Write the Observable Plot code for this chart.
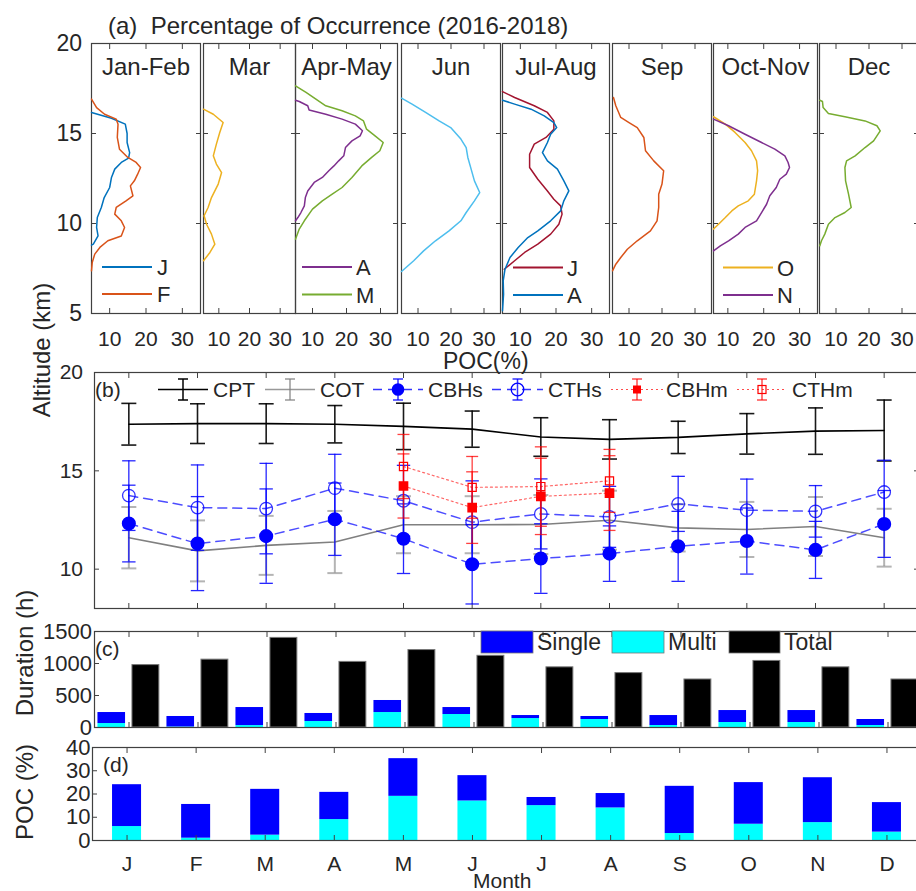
<!DOCTYPE html>
<html><head><meta charset="utf-8">
<script src="https://cdn.jsdelivr.net/npm/d3@7"></script>
<script src="https://cdn.jsdelivr.net/npm/@observablehq/plot@0.6"></script>
<style>
html,body{margin:0;padding:0;background:#fff;overflow:hidden;}
#chart{position:relative;width:916px;height:891px;overflow:hidden;background:#fff;}
</style></head><body><div id="chart"></div>
<script>
// ---------------- DATA ----------------
// (a) profiles: [POC %, altitude km]
const janFebJ = [[5.0,16.17],[10.5,15.85],[14.3,15.52],[14.8,15.0],[14.8,14.5],[15.5,13.94],[15.2,13.63],[13.2,13.39],[11.4,13.02],[10.5,12.56],[10.0,12.0],[8.5,11.44],[7.7,10.89],[6.6,10.33],[6.4,9.78],[6.8,9.31],[5.5,8.85],[5.0,8.8]];
const janFebF = [[5.0,16.91],[6.4,16.44],[8.6,16.07],[11.8,15.8],[12.3,15.52],[12.1,14.78],[12.7,14.13],[15.0,13.67],[17.3,13.39],[18.5,13.11],[17.7,12.74],[16.8,12.37],[15.7,12.09],[16.4,11.54],[14.5,11.26],[11.8,10.89],[11.4,10.52],[13.2,10.15],[14.1,9.78],[13.2,9.31],[9.5,9.04],[7.3,8.67],[5.9,8.3],[5.2,7.83],[5.0,7.37]];
const marProfile = [[5.0,16.35],[8.2,16.07],[11.4,15.61],[10.3,15.06],[9.2,14.41],[8.2,13.76],[9.2,13.3],[10.9,12.83],[9.8,12.19],[7.6,11.44],[6.5,10.89],[5.2,10.43],[6.0,9.96],[7.6,9.41],[8.7,8.85],[7.1,8.39],[5.0,7.93]];
const aprMayA = [[5.0,16.85],[6.1,16.78],[8.6,16.54],[9.0,16.3],[13.9,16.07],[18.7,15.8],[22.6,15.52],[24.7,15.15],[24.0,14.87],[21.6,14.59],[19.7,14.22],[19.2,13.76],[17.7,13.48],[16.3,13.2],[14.8,12.93],[12.9,12.56],[10.5,12.28],[8.6,11.81],[7.9,11.44],[7.6,10.98],[6.6,10.61],[5.7,10.33],[5.0,10.15]];
const aprMayM = [[5.0,17.65],[8.1,17.28],[11.0,16.91],[13.9,16.54],[18.7,16.26],[22.6,15.98],[25.0,15.7],[25.9,15.24],[28.4,14.87],[30.8,14.5],[29.8,14.04],[27.4,13.67],[24.5,13.2],[21.6,12.56],[18.7,12.0],[15.8,11.63],[12.9,11.26],[10.0,10.8],[7.6,10.15],[6.1,9.69],[5.0,9.13]];
const junProfile = [[5.0,16.96],[8.2,16.63],[12.3,16.17],[16.4,15.7],[19.9,15.33],[23.0,14.69],[24.6,14.22],[25.1,13.67],[26.1,13.02],[27.1,12.37],[28.7,11.72],[27.1,11.26],[24.6,10.61],[23.0,10.15],[19.4,9.59],[15.3,9.04],[11.7,8.48],[8.7,7.93],[5.0,7.33]];
const julAugJ = [[5.0,17.33],[8.4,17.0],[13.9,16.54],[17.6,16.17],[19.4,15.7],[19.4,15.24],[17.2,14.78],[13.9,14.41],[12.6,13.85],[12.6,13.11],[14.9,12.46],[17.6,11.81],[19.4,11.35],[21.3,10.98],[21.7,10.52],[20.8,9.96],[18.5,9.41],[14.9,8.85],[11.2,8.39],[8.4,7.93],[5.5,7.46]];
const julAugA = [[5.0,16.85],[8.4,16.63],[13.0,16.35],[16.7,15.98],[19.4,15.61],[20.2,15.33],[18.5,14.96],[17.6,14.5],[16.2,13.94],[17.6,13.48],[20.4,13.02],[22.2,12.37],[23.6,11.81],[22.2,11.26],[21.3,10.7],[18.5,10.15],[14.9,9.59],[12.1,9.22],[9.4,8.67],[7.1,8.11],[5.7,7.46],[5.2,6.81],[5.3,6.07],[5.0,5.15]];
const sepProfile = [[5.3,17.0],[6.0,16.54],[7.5,15.89],[10.0,15.61],[12.5,15.33],[14.5,14.78],[15.0,14.04],[17.5,13.48],[20.5,12.93],[20.0,12.19],[19.0,11.63],[19.0,10.89],[18.5,10.15],[16.5,9.59],[12.5,9.04],[9.5,8.57],[7.5,8.11],[6.0,7.74],[5.0,7.37]];
const octNovO = [[6.0,15.93],[9.3,15.52],[12.0,15.06],[14.8,14.5],[16.6,14.04],[18.0,13.48],[18.3,12.93],[18.0,12.37],[17.4,11.63],[15.7,11.26],[12.9,10.98],[11.1,10.7],[9.3,10.33],[7.4,9.96],[6.0,9.69]];
const octNovN = [[6.0,15.8],[10.2,15.43],[14.8,14.96],[19.4,14.5],[23.1,14.13],[25.9,13.76],[26.8,13.39],[27.2,13.11],[26.3,12.74],[24.5,12.46],[23.5,12.0],[21.7,11.54],[20.8,11.07],[19.4,10.61],[18.0,10.15],[14.8,9.78],[12.9,9.41],[10.2,9.04],[7.9,8.76],[6.0,8.48]];
const decProfile = [[5.1,16.85],[5.9,16.78],[6.1,16.44],[7.7,16.11],[12.7,15.93],[18.8,15.7],[22.4,15.43],[23.4,15.15],[22.4,14.87],[21.4,14.59],[18.8,14.22],[15.8,13.76],[13.2,13.48],[12.7,13.11],[12.9,12.37],[13.8,11.63],[14.6,10.89],[12.7,10.61],[9.7,10.33],[7.7,9.96],[6.6,9.41],[5.6,9.04],[5.1,8.76]];
const aTitles = ["Jan-Feb","Mar","Apr-May","Jun","Jul-Aug","Sep","Oct-Nov","Dec"];
const pocTicks = [10,20,30];
const altTicks = [5,10,15,20];

// (b) heights (km)
const months = ["J","F","M","A","M","J","J","A","S","O","N","D"];
const cptMean = [17.37,17.4,17.4,17.37,17.26,17.12,16.72,16.6,16.7,16.88,17.02,17.05];
const cptErr  = [1.06,1.01,1.01,0.95,1.18,0.92,0.98,1.0,0.82,1.03,1.18,1.55];
const cotMean = [11.6,10.93,11.21,11.38,12.26,12.26,12.27,12.49,12.1,12.02,12.17,11.6];
const cotErr  = [1.56,1.55,1.5,1.58,1.45,1.45,1.5,1.5,1.2,1.4,1.5,1.47];
const cbhsMean = [12.32,11.3,11.68,12.54,11.55,10.25,10.54,10.79,11.16,11.43,10.98,12.3];
const cbhsErr  = [1.95,2.39,2.4,1.84,1.77,2.02,1.77,1.41,1.78,1.68,1.45,1.7];
const cthsMean = [13.74,13.13,13.08,14.12,13.48,12.39,12.81,12.66,13.32,13.0,12.94,13.92];
const cthsErr  = [1.77,2.17,2.3,1.72,1.8,2.1,1.78,1.55,1.4,1.58,1.31,1.62];
const multiMonths = ["May","Jun","Jul","Aug"];
const multiMonthIdx = [5,6,7,8];
const cbhmMean = [14.23,13.13,13.7,13.87];
const cbhmErr  = [1.63,1.82,1.94,1.9];
const cthmMean = [15.22,14.16,14.2,14.49];
const cthmErr  = [1.63,1.57,2.02,1.6];

// (c) duration (h)
const durSingle = [172,164,282,125,188,109,47,47,156,187,187,94];
const durMulti  = [62,8,30,94,234,203,140,125,31,78,78,31];
const durTotal  = [975,1060,1400,1025,1210,1120,940,850,750,1040,940,750];

// (d) POC (%)
const pocSingle = [18,14.5,19.7,11.7,16.2,10.9,3.5,6.2,20.3,17.9,19.3,12.7];
const pocMulti  = [6,1,2.3,9,19,17,15,14,3,7,7.7,3.6];

// ---------------- STYLE ----------------
const FONT = "'Liberation Sans', Arial, Helvetica, sans-serif";
const INK = "#262626";
const FRAME = "#404040";
const C = {blue:"#0072BD", orange:"#D95319", yellow:"#EDB120", purple:"#7E2F8E", green:"#77AC30", sky:"#4DBEEE", red:"#A2142F"};
const chart = document.getElementById("chart");
const svgStyle = {background:"none", overflow:"visible", maxWidth:"none", fontFamily:FONT, color:INK, position:"absolute", left:"0px", top:"0px"};
const capSymbol = {draw(ctx, size){ const w = Math.sqrt(size / Math.PI); ctx.moveTo(-w, 0); ctx.lineTo(w, 0); }};
const plain = d => String(d);

function tickAxis(fn, anchor, ticks) {
  return fn({anchor, ticks, tickSize:-5, fill:"none", stroke:FRAME, label:null});
}
function labelAxis(fn, anchor, ticks, pad, fs, fmt) {
  return fn({anchor, ticks, tickSize:-5, tickPadding:pad, fontSize:fs, fill:INK, stroke:FRAME, label:null, tickFormat: fmt || plain});
}

// ---------------- PANEL (a) ----------------
const aLayout = [
  {L:91, R:200, x0:5, series:[[janFebJ,C.blue],[janFebF,C.orange]]},
  {L:203, R:295, x0:5, series:[[marProfile,C.yellow]]},
  {L:295, R:397, x0:5, series:[[aprMayA,C.purple],[aprMayM,C.green]]},
  {L:401, R:500, x0:5, series:[[junProfile,C.sky]]},
  {L:502, R:609, x0:5, series:[[julAugJ,C.red],[julAugA,C.blue]]},
  {L:612, R:711, x0:5, series:[[sepProfile,C.orange]]},
  {L:713, R:817, x0:6, series:[[octNovO,C.yellow],[octNovN,C.purple]]},
  {L:819, R:918, x0:5, series:[[decProfile,C.green]]}
];
aLayout.forEach((p, i) => {
  const W = 920;
  const marks = [
    Plot.frame({stroke:FRAME, strokeWidth:1.2}),
    labelAxis(Plot.axisX, "bottom", pocTicks, 23, 21),
    tickAxis(Plot.axisX, "top", pocTicks),
    i === 0 ? labelAxis(Plot.axisY, "left", altTicks, 14.5, 23) : tickAxis(Plot.axisY, "left", altTicks),
    tickAxis(Plot.axisY, "right", altTicks),
    ...p.series.map(([d, c]) => Plot.line(d, {x: r => r[0], y: r => r[1], stroke:c, strokeWidth:1.5})),
    Plot.text([aTitles[i]], {text: d => d, frameAnchor:"top", dy:31, lineAnchor:"bottom", fontSize:24, fill:INK})
  ];
  const svg = Plot.plot({
    width:W, height:891, marginLeft:p.L, marginRight:W - p.R, marginTop:43, marginBottom:891 - 313,
    x:{domain:[p.x0, 35], axis:null}, y:{domain:[5,20], axis:null},
    style:svgStyle, marks
  });
  chart.appendChild(svg);
});

// ---------------- PANEL (b) ----------------
const idx = months.map((_, i) => i + 1);
const rows = (mean, err, mi) => mean.map((v, i) => ({m: mi ? mi[i] : i + 1, v, e: err[i]}));
const cpt = rows(cptMean, cptErr), cot = rows(cotMean, cotErr);
const cbhs = rows(cbhsMean, cbhsErr), cths = rows(cthsMean, cthsErr);
const cbhm = rows(cbhmMean, cbhmErr, multiMonthIdx), cthm = rows(cthmMean, cthmErr, multiMonthIdx);
function errMarks(data, color, w, op, capR) {
  const common = {stroke:color, strokeWidth:w, strokeOpacity:op};
  return [
    Plot.ruleX(data, {x:"m", y1: d => d.v - d.e, y2: d => d.v + d.e, ...common}),
    Plot.dot(data, {x:"m", y: d => d.v + d.e, symbol:capSymbol, r:capR, fill:"none", ...common}),
    Plot.dot(data, {x:"m", y: d => d.v - d.e, symbol:capSymbol, r:capR, fill:"none", ...common})
  ];
}
const BLUE = "#0000ff", RED = "#ff0000";
chart.appendChild(Plot.plot({
  width:918, height:891, marginLeft:94, marginRight:0, marginTop:372, marginBottom:891 - 608,
  x:{domain:[0.5,12.5], axis:null}, y:{domain:[8,20], axis:null},
  style:svgStyle,
  marks:[
    Plot.frame({stroke:FRAME, strokeWidth:1.2}),
    tickAxis(Plot.axisX, "bottom", idx),
    tickAxis(Plot.axisX, "top", idx),
    labelAxis(Plot.axisY, "left", [10,15,20], 16.5, 21),
    tickAxis(Plot.axisY, "right", [10,15,20]),
    Plot.line(cpt, {x:"m", y:"v", stroke:"#000", strokeWidth:1.6}),
    ...errMarks(cpt, "#000", 1.6, 0.9, 7.5),
    ...errMarks(cot, "#777", 2, 0.55, 7.5),
    Plot.line(cot, {x:"m", y:"v", stroke:"#808080", strokeWidth:1.6}),
    ...errMarks(cbhs, BLUE, 1.3, 0.85, 6.7),
    Plot.line(cbhs, {x:"m", y:"v", stroke:BLUE, strokeOpacity:0.7, strokeWidth:1.5, strokeDasharray:"9,6"}),
    Plot.dot(cbhs, {x:"m", y:"v", r:6.3, fill:BLUE, stroke:BLUE}),
    ...errMarks(cths, BLUE, 1.3, 0.85, 6.7),
    Plot.line(cths, {x:"m", y:"v", stroke:BLUE, strokeOpacity:0.7, strokeWidth:1.5, strokeDasharray:"9,6"}),
    Plot.dot(cths, {x:"m", y:"v", r:6.3, fill:"none", stroke:BLUE, strokeOpacity:0.8, strokeWidth:1.3}),
    ...errMarks(cbhm, RED, 1.3, 0.75, 6),
    Plot.line(cbhm, {x:"m", y:"v", stroke:RED, strokeOpacity:0.6, strokeWidth:1.2, strokeDasharray:"2,3"}),
    Plot.dot(cbhm, {x:"m", y:"v", symbol:"square", r:4.6, fill:RED, stroke:RED}),
    ...errMarks(cthm, RED, 1.3, 0.75, 6),
    Plot.line(cthm, {x:"m", y:"v", stroke:RED, strokeOpacity:0.6, strokeWidth:1.2, strokeDasharray:"2,3"}),
    Plot.dot(cthm, {x:"m", y:"v", symbol:"square", r:4.6, fill:"none", stroke:RED, strokeWidth:1.2})
  ]
}));

// ---------------- PANEL (c) ----------------
const cRows = months.map((mo, i) => ({m:i + 1, single:durSingle[i], multi:durMulti[i], total:durTotal[i]}));
chart.appendChild(Plot.plot({
  width:922, height:891, marginLeft:94, marginRight:0, marginTop:631, marginBottom:891 - 727,
  x:{domain:[0.5,12.5], axis:null}, y:{domain:[0,1500], axis:null},
  style:svgStyle,
  marks:[
    Plot.rect(cRows, {x1: d => d.m - 0.45, x2: d => d.m - 0.05, y1:0, y2:"multi", fill:"#00ffff"}),
    Plot.rect(cRows, {x1: d => d.m - 0.45, x2: d => d.m - 0.05, y1:"multi", y2: d => d.multi + d.single, fill:BLUE}),
    Plot.rect(cRows, {x1: d => d.m + 0.05, x2: d => d.m + 0.44, y1:0, y2:"total", fill:"#000", stroke:"#777", strokeWidth:1}),
    Plot.frame({stroke:FRAME, strokeWidth:1.2}),
    tickAxis(Plot.axisX, "bottom", idx),
    tickAxis(Plot.axisX, "top", idx),
    labelAxis(Plot.axisY, "left", [0,500,1000,1500], 7.5, 22),
    tickAxis(Plot.axisY, "right", [0,500,1000,1500])
  ]
}));

// ---------------- PANEL (d) ----------------
const dRows = months.map((mo, i) => ({m:i + 1, single:pocSingle[i], multi:pocMulti[i]}));
chart.appendChild(Plot.plot({
  width:921, height:891, marginLeft:92, marginRight:0, marginTop:747, marginBottom:891 - 840,
  x:{domain:[0.5,12.5], axis:null}, y:{domain:[0,40], axis:null},
  style:svgStyle,
  marks:[
    Plot.rect(dRows, {x1: d => d.m - 0.21, x2: d => d.m + 0.21, y1:0, y2:"multi", fill:"#00ffff"}),
    Plot.rect(dRows, {x1: d => d.m - 0.21, x2: d => d.m + 0.21, y1:"multi", y2: d => d.multi + d.single, fill:BLUE}),
    Plot.frame({stroke:FRAME, strokeWidth:1.2}),
    labelAxis(Plot.axisX, "bottom", idx, 21, 21, d => months[d - 1]),
    tickAxis(Plot.axisX, "top", idx),
    labelAxis(Plot.axisY, "left", [0,10,20,30,40], 7, 22),
    tickAxis(Plot.axisY, "right", [0,10,20,30,40])
  ]
}));

// ---------------- TEXT & LEGENDS ----------------
const ov = d3.select(chart).append("svg")
  .attr("width", 916).attr("height", 891)
  .attr("style", `position:absolute;left:0;top:0;overflow:visible;font-family:${FONT}`);
function txt(x, y, s, fs, opts = {}) {
  const t = ov.append("text").attr("x", x).attr("y", y).attr("font-size", fs).attr("fill", INK)
    .style("white-space", "pre").text(s);
  if (opts.anchor) t.attr("text-anchor", opts.anchor);
  if (opts.rotate) t.attr("transform", `rotate(-90 ${x} ${y})`).attr("dominant-baseline", "central");
  return t;
}
txt(108, 34, "(a)  Percentage of Occurrence (2016-2018)", 24);
txt(41, 350, "Altitude (km)", 24, {anchor:"middle", rotate:true});
txt(443, 369, "POC(%)", 23);
txt(24, 653, "Duration (h)", 24, {anchor:"middle", rotate:true});
txt(24, 792, "POC (%)", 24, {anchor:"middle", rotate:true});
txt(473, 888, "Month", 21);
txt(95, 397, "(b)", 21);
txt(95, 656, "(c)", 21);
txt(103, 772, "(d)", 21);

// (a) legends
const aLeg = [
  {x1:102, x2:152, tx:157, items:[["J",C.blue,267],["F",C.orange,294]]},
  {x1:302, x2:352, tx:356, items:[["A",C.purple,267],["M",C.green,294.5]]},
  {x1:513, x2:563, tx:567, items:[["J",C.red,267.5],["A",C.blue,295]]},
  {x1:723, x2:773, tx:777, items:[["O",C.yellow,267.5],["N",C.purple,295]]}
];
aLeg.forEach(g => g.items.forEach(([lab, col, y]) => {
  ov.append("line").attr("x1", g.x1).attr("x2", g.x2).attr("y1", y).attr("y2", y).attr("stroke", col).attr("stroke-width", 2);
  txt(g.tx, y + 8, lab, 22);
}));

// (b) legend
function legErr(cx, col, op, capW) {
  ov.append("line").attr("x1", cx).attr("x2", cx).attr("y1", 379).attr("y2", 400).attr("stroke", col).attr("stroke-opacity", op).attr("stroke-width", 1.5);
  [379, 400].forEach(y => ov.append("line").attr("x1", cx - capW).attr("x2", cx + capW).attr("y1", y).attr("y2", y).attr("stroke", col).attr("stroke-opacity", op).attr("stroke-width", 1.5));
}
const bLeg = [
  {lab:"CPT", x1:158, x2:208, col:"#000", op:1, dash:null, mk:null, tx:213, capW:5},
  {lab:"COT", x1:265, x2:315, col:"#808080", op:0.8, dash:null, mk:null, tx:320, capW:5},
  {lab:"CBHs", x1:373, x2:423, col:BLUE, op:0.8, dash:"9,6", mk:"fcircle", tx:428, capW:5},
  {lab:"CTHs", x1:492, x2:543, col:BLUE, op:0.8, dash:"9,6", mk:"ocircle", tx:548, capW:5},
  {lab:"CBHm", x1:611, x2:663, col:RED, op:0.7, dash:"2,3", mk:"fsquare", tx:666, capW:5},
  {lab:"CTHm", x1:737, x2:787, col:RED, op:0.7, dash:"2,3", mk:"osquare", tx:792, capW:5}
];
bLeg.forEach(g => {
  const cx = (g.x1 + g.x2) / 2, y = 389.5;
  const ln = ov.append("line").attr("x1", g.x1).attr("x2", g.x2).attr("y1", y).attr("y2", y)
    .attr("stroke", g.col).attr("stroke-opacity", g.op).attr("stroke-width", g.dash === "2,3" ? 1.2 : 1.6);
  if (g.dash) ln.attr("stroke-dasharray", g.dash);
  legErr(cx, g.col, g.op, g.capW);
  if (g.mk === "fcircle") ov.append("circle").attr("cx", cx).attr("cy", y).attr("r", 6.3).attr("fill", BLUE);
  if (g.mk === "ocircle") ov.append("circle").attr("cx", cx).attr("cy", y).attr("r", 6.3).attr("fill", "none").attr("stroke", BLUE).attr("stroke-width", 1.3);
  if (g.mk === "fsquare") ov.append("rect").attr("x", cx - 4).attr("y", y - 4).attr("width", 8).attr("height", 8).attr("fill", RED);
  if (g.mk === "osquare") ov.append("rect").attr("x", cx - 4).attr("y", y - 4).attr("width", 8).attr("height", 8).attr("fill", "none").attr("stroke", RED).attr("stroke-width", 1.2);
  txt(g.tx, 397, g.lab, 21);
});

// (c) legend
[["Single", BLUE, 481, 533, 537], ["Multi", "#00ffff", 612, 664, 668], ["Total", "#000", 729, 780, 784]].forEach(([lab, col, x1, x2, tx]) => {
  ov.append("rect").attr("x", x1).attr("y", 631).attr("width", x2 - x1).attr("height", 22).attr("fill", col).attr("stroke", "#777").attr("stroke-width", 0.8);
  txt(tx, 650, lab, 23);
});
</script></body></html>
